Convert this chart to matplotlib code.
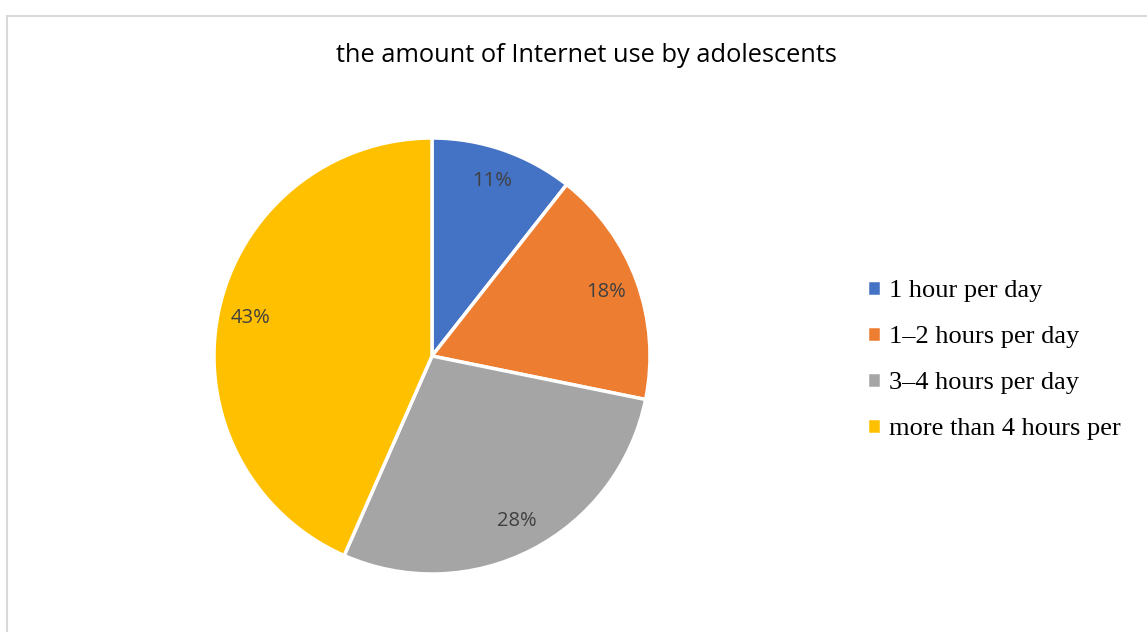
import matplotlib.pyplot as plt
from matplotlib.patches import Rectangle

# data (shares; labels rounded to whole %)
categories = ["1 hour per day", "1\u20132 hours per day", "3\u20134 hours per day", "more than 4 hours per"]
shares = [10.6, 17.6, 28.4, 43.4]
colors = ["#4472C4", "#ED7D31", "#A5A5A5", "#FFC000"]
title = "the amount of Internet use by adolescents"

fig = plt.figure(figsize=(11.47, 6.32), dpi=100)

# chart frame border (light gray)
fig.patches.append(Rectangle((7 / 1147, -0.1), 1.2, (632 - 16) / 632 + 0.1,
                             transform=fig.transFigure, fill=False,
                             edgecolor="#D9D9D9", linewidth=1.5))

fig.text(586 / 1147, 1 - 55 / 632, title, ha="center", va="center",
         fontsize=18.3, family="Open Sans", color="#000000")

# pie: center ~ (432, 356), radius ~ 218 px
ax = fig.add_axes([(432 - 218) / 1147, 1 - (356 + 218) / 632, 436 / 1147, 436 / 632])
wedges, texts, autotexts = ax.pie(
    shares, colors=colors, startangle=90, counterclock=False,
    autopct="%.0f%%", pctdistance=0.85,
    wedgeprops=dict(edgecolor="white", linewidth=2.5),
    textprops=dict(fontsize=14.5, family="Open Sans", color="#404040"))
ax.set_xlim(-1, 1)
ax.set_ylim(-1, 1)
ax.set_aspect("equal")

fig.legend(wedges, categories, loc="upper left",
           bbox_to_anchor=(843 / 1147, 1 - 256 / 632),
           frameon=False, handlelength=0.55, handleheight=0.55,
           handletextpad=0.3, labelspacing=0.9,
           prop=dict(family="Liberation Serif", size=19))

fig.savefig("out.png", dpi=100)
